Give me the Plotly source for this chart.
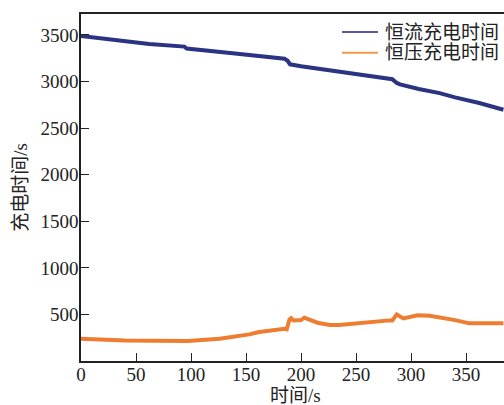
import plotly.graph_objects as go

# data
cc_x = [0, 30, 62, 94, 96, 140, 185, 188, 190, 200, 244, 283, 287, 290, 307, 326, 340, 362, 384]
cc_y = [3490, 3445, 3404, 3375, 3355, 3300, 3245, 3220, 3185, 3165, 3095, 3025, 2985, 2970, 2920, 2876, 2830, 2770, 2697]

cv_x = [0, 40, 97, 126, 153, 162, 185, 187, 189.5, 191, 193, 200, 203, 215, 226, 235, 280, 283, 287, 293, 306, 317, 340, 353, 362, 384]
cv_y = [240, 220, 214, 240, 286, 311, 347, 340, 447, 460, 436, 440, 465, 411, 386, 386, 436, 436, 500, 457, 490, 486, 439, 404, 404, 404]

names = ["恒流充电时间", "恒压充电时间"]
colors = ["#2b3383", "#ee7d31"]
legend_colors = ["#5558a8", "#f39a4a"]

FONT = "Liberation Serif, Times New Roman, Noto Sans CJK SC, serif"
TXT = "#222222"

fig = go.Figure()
fig.add_trace(go.Scatter(x=cc_x, y=cc_y, mode="lines", name=names[0],
                         line=dict(color=colors[0], width=4), showlegend=False))
fig.add_trace(go.Scatter(x=cv_x, y=cv_y, mode="lines", name=names[1],
                         line=dict(color=colors[1], width=4), showlegend=False))

axis_common = dict(showline=True, linecolor=TXT, linewidth=1.5,
                   ticks="inside", ticklen=8, tickwidth=1.3, tickcolor=TXT,
                   showgrid=False, zeroline=False,
                   tickfont=dict(family=FONT, size=19, color=TXT))

fig.update_xaxes(range=[0, 384.5], tick0=0, dtick=50, mirror=True,
                 ticklabelstandoff=-5, **axis_common)
fig.update_yaxes(range=[0, 3725], tickvals=[500, 1000, 1500, 2000, 2500, 3000, 3500],
                 mirror=False, ticklabelstandoff=-3,
                 title=dict(text="充电时间/s", font=dict(family=FONT, size=19, color=TXT),
                            standoff=8),
                 **axis_common)

# x-axis title
fig.add_annotation(text="时间/s", xref="paper", yref="paper", x=0.508, y=-0.098,
                   xanchor="center", yanchor="middle", showarrow=False,
                   font=dict(family=FONT, size=19, color=TXT))

# legend (drawn manually to match the compact spacing of the reference)
leg_rows_y = [0.948, 0.888]
for name, col, yy in zip(names, legend_colors, leg_rows_y):
    fig.add_shape(type="line", xref="paper", yref="paper",
                  x0=0.617, x1=0.702, y0=yy, y1=yy,
                  line=dict(color=col, width=2))
    fig.add_annotation(text=name, xref="paper", yref="paper", x=0.713, y=yy,
                       xanchor="left", yanchor="middle", showarrow=False,
                       font=dict(family=FONT, size=19, color=TXT))

fig.update_layout(
    width=504, height=405,
    margin=dict(l=81, r=0, t=14, b=44),
    paper_bgcolor="white", plot_bgcolor="white",
    showlegend=False,
    font=dict(family=FONT, size=19, color=TXT),
)

fig.write_html("out.html")
